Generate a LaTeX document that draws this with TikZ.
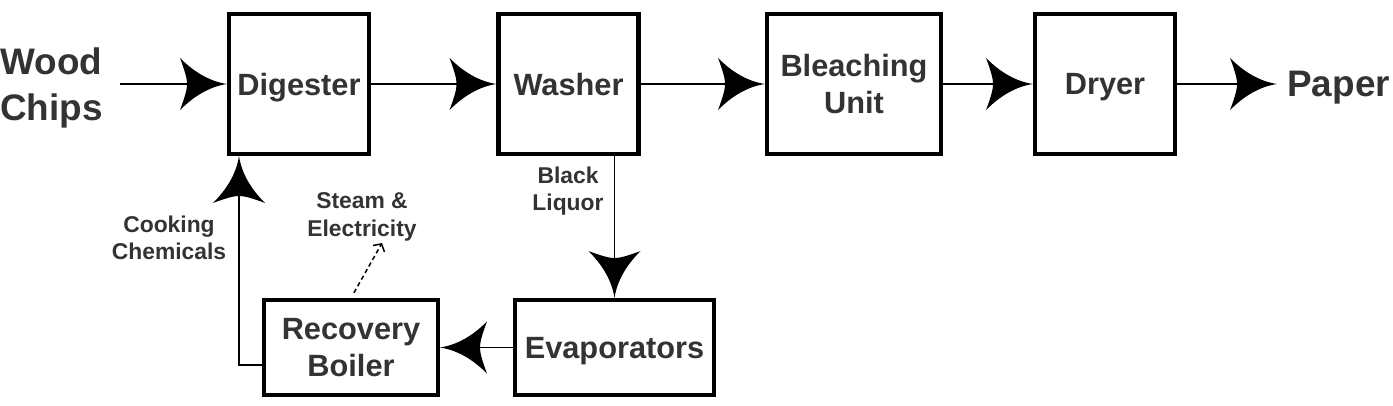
\documentclass[tikz,border=0pt]{standalone}
\usepackage{fontspec}
\setmainfont{Liberation Sans}
\usetikzlibrary{arrows.meta}

\definecolor{ink}{HTML}{333333}

\pgfdeclarearrow{
  name = Flow,
  parameters = {flow},
  setup code = {
    \pgfarrowssettipend{0pt}
    \pgfarrowssetbackend{-26.7pt}
    \pgfarrowssetlineend{-22pt}
    \pgfarrowssetvisualbackend{-22.7pt}
    \pgfarrowshullpoint{0pt}{0pt}
    \pgfarrowshullpoint{-26.7pt}{14.8pt}
    \pgfarrowshullpoint{-26.7pt}{-14.8pt}
  },
  drawing code = {
    \pgfpathmoveto{\pgfpointorigin}
    \pgfpathcurveto{\pgfpoint{-10pt}{1.5pt}}{\pgfpoint{-19pt}{7pt}}{\pgfpoint{-26.7pt}{14.8pt}}
    \pgfpathcurveto{\pgfpoint{-24pt}{7.5pt}}{\pgfpoint{-22.7pt}{3pt}}{\pgfpoint{-22.7pt}{0pt}}
    \pgfpathcurveto{\pgfpoint{-22.7pt}{-3pt}}{\pgfpoint{-24pt}{-7.5pt}}{\pgfpoint{-26.7pt}{-14.8pt}}
    \pgfpathcurveto{\pgfpoint{-19pt}{-7pt}}{\pgfpoint{-10pt}{-1.5pt}}{\pgfpointorigin}
    \pgfpathclose
    \pgfusepathqfill
  }
}

\tikzset{
  unit/.style={draw=black, line width=2.3pt, text=ink, align=center, inner sep=0pt, text depth=0pt,
    font=\bfseries\fontsize{17.5}{21}\selectfont, minimum width=2.8cm, minimum height=2.8cm},
  ends/.style={text=ink, align=center, inner sep=0pt, text depth=0pt,
    font=\bfseries\fontsize{21}{26}\selectfont},
  note/.style={text=ink, align=center, inner sep=0pt, text depth=0pt,
    font=\bfseries\fontsize{13}{15.5}\selectfont},
  flow/.style={line width=1.1pt, -Flow},
  steamline/.style={line width=0.85pt, dash pattern=on 2.5pt off 1.8pt,
    -{Straight Barb[length=3.2pt,width=7.5pt]}},
}

\begin{document}
\begin{tikzpicture}
\useasboundingbox (0,0) rectangle (27.86,-8.10);
\node[ends, anchor=west] (chips) at (0,-1.68) {Wood\\Chips};
\node[unit] (dig) at (5.98,-1.68) {Digester};
\node[unit] (wash) at (11.37,-1.68) {Washer};
\node[unit, minimum width=3.48cm] (bleach) at (17.08,-1.68) {Bleaching\\Unit};
\node[unit] (dry) at (22.10,-1.68) {Dryer};
\node[ends, anchor=west] (paper) at (25.74,-1.68) {Paper};
\node[unit, minimum width=3.98cm, minimum height=1.9cm] (evap) at (12.29,-6.95) {Evaporators};
\node[unit, minimum width=3.48cm, minimum height=1.9cm] (boiler) at (7.02,-6.95) {Recovery\\Boiler};
\node[note] (liquor) at (11.36,-3.78) {Black\\Liquor};
\node[note] (cooking) at (3.38,-4.76) {Cooking\\Chemicals};
\node[note] (steam) at (7.24,-4.29) {Steam \&\\Electricity};
\coordinate (steamend) at (7.64,-4.86);

\draw[flow, shorten <=0.34cm] (chips) -- (dig);
\draw[flow] (dig) -- (wash);
\draw[flow] (wash) -- (bleach);
\draw[flow] (bleach) -- (dry);
\draw[flow, shorten >=0.2cm] (dry) -- (paper);
\draw[flow] (wash.south -| evap.north) -- (evap.north);
\draw[flow] (evap) -- (boiler);
\draw[flow] ([yshift=-0.35cm]boiler.west) -| ([xshift=-1.2cm]dig.south);
\draw[steamline, shorten <=0.12cm] (boiler.north) -- (steamend);
\end{tikzpicture}
\end{document}
